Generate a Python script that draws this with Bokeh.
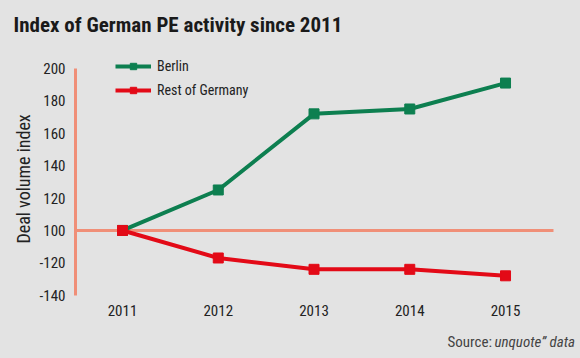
from bokeh.plotting import figure
from bokeh.models import Label, Legend, LegendItem, FixedTicker, Range1d, Title
from bokeh.core.properties import value
from bokeh.embed import file_html
from bokeh.resources import INLINE

years = [2011, 2012, 2013, 2014, 2015]
year_labels = ["2011", "2012", "2013", "2014", "2015"]
berlin = [100, 125, 172, 175, 191]
rest = [100, 83, 76, 76, 72]
y_ticks = [60, 80, 100, 120, 140, 160, 180, 200]
y_tick_labels = {60: "-140", 80: "-120", 100: "100", 120: "120", 140: "140",
                 160: "160", 180: "180", 200: "200"}

BG = "#e3e3e3"
SALMON = "#f08f78"
GREEN = "#0d7f50"
RED = "#e30a17"
TXT = "#222222"
FONT = "Roboto Condensed, Liberation Sans Narrow, Roboto"

X_START, X_END, LINE_END = 2010.509, 2015.783, 2015.501
Y_START, Y_END = 20.94, 214.82
YEAR_ROW = 50.6

p = figure(width=580, height=358, output_backend="svg", toolbar_location=None,
           x_range=Range1d(X_START, X_END), y_range=Range1d(Y_START, Y_END),
           min_border_left=75, min_border_right=0, min_border_top=44,
           min_border_bottom=0)
p.background_fill_color = BG
p.border_fill_color = BG
p.outline_line_color = None
p.grid.visible = False
p.xaxis.visible = False

p.yaxis.ticker = FixedTicker(ticks=y_ticks)
p.yaxis.major_label_overrides = y_tick_labels
p.yaxis.bounds = (60, 200)
p.yaxis.axis_line_color = SALMON
p.yaxis.axis_line_width = 3
p.yaxis.major_tick_line_color = None
p.yaxis.minor_tick_line_color = None
p.yaxis.major_label_text_font = FONT
p.yaxis.major_label_text_font_size = "15px"
p.yaxis.major_label_text_color = TXT
p.yaxis.major_label_standoff = 4

p.title = Title(text="Index of German PE activity since 2011", align="left",
                offset=-62, text_font=FONT, text_font_size="21px",
                text_font_style="bold", text_color="#1a1a1a", standoff=16)

p.add_layout(Title(text="Deal volume index", align="left", offset=115,
                   text_font=FONT, text_font_size="18px", text_font_style="normal",
                   text_color=TXT, standoff=6), "left")

# baseline at 100
p.segment(x0=[X_START], y0=[100], x1=[LINE_END], y1=[100],
          line_color=SALMON, line_width=3)

# year labels
p.text(x=years, y=[YEAR_ROW] * len(years), text=year_labels,
       text_font=value(FONT), text_font_size="15px", text_color=TXT,
       text_align="center", text_baseline="middle")

lb = p.line(years, berlin, line_color=GREEN, line_width=4)
sb = p.scatter(years, berlin, marker="square", size=10, color=GREEN)
lr = p.line(years, rest, line_color=RED, line_width=4)
sr = p.scatter(years, rest, marker="square", size=10, color=RED)

legend = Legend(items=[LegendItem(label="Berlin", renderers=[lb, sb]),
                       LegendItem(label="Rest of Germany", renderers=[lr, sr])],
                location=(40, 260), orientation="vertical",
                background_fill_alpha=0, border_line_color=None,
                glyph_width=36, glyph_height=16, label_height=16, spacing=8,
                padding=0, margin=0, label_standoff=6,
                label_text_font=FONT, label_text_font_size="14px",
                label_text_color=TXT)
p.add_layout(legend)

p.add_layout(Label(x=372, y=17, x_units="screen", y_units="screen", text="Source:",
                   text_font=FONT, text_font_size="15px", text_color="#444444",
                   text_baseline="middle", text_align="left"))
p.add_layout(Label(x=419, y=17, x_units="screen", y_units="screen",
                   text="unquote\u201d data",
                   text_font=FONT, text_font_size="15px", text_font_style="italic",
                   text_color="#444444", text_baseline="middle", text_align="left"))

html = file_html(p, INLINE)
html = html.replace("<head>", "<head><style>html,body{margin:0;padding:0;background:%s;overflow:hidden;}</style>" % BG, 1)
open("out.html", "w").write(html)
